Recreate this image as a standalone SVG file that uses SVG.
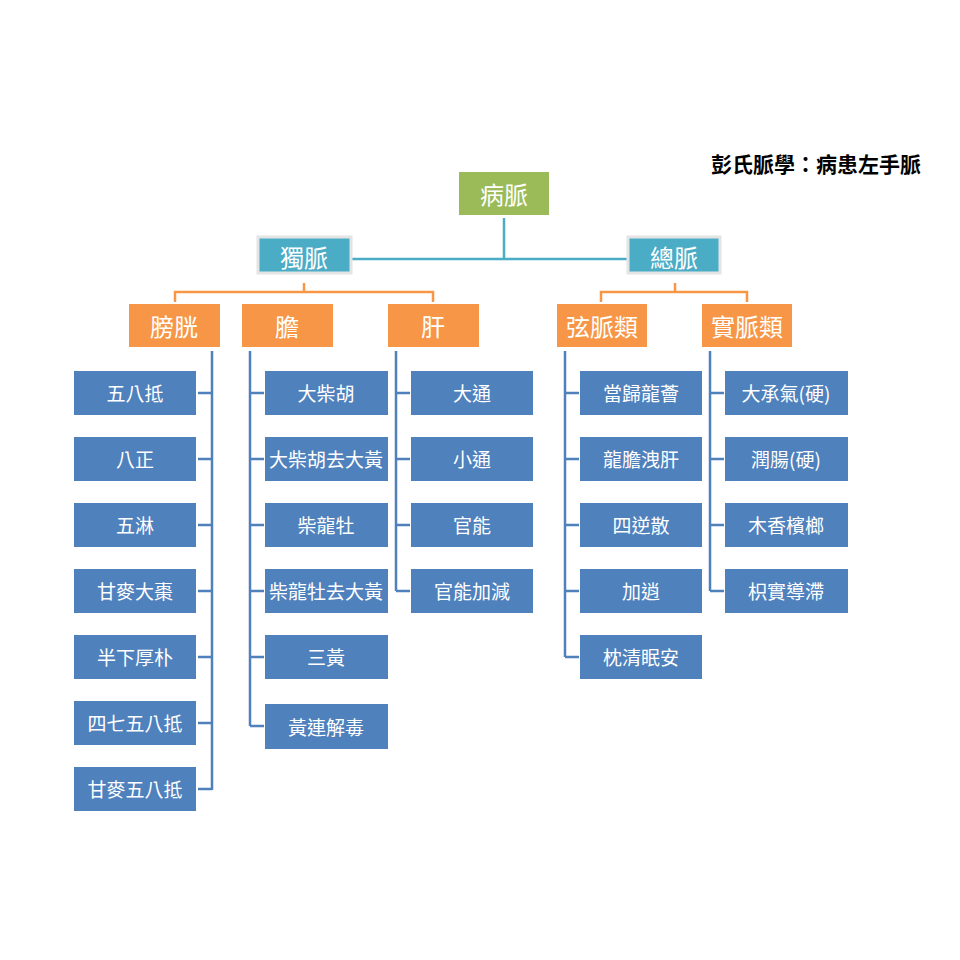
<svg xmlns="http://www.w3.org/2000/svg" width="960" height="960" viewBox="0 0 960 960">
<style>
text{font-family:"Noto Sans CJK TC","Noto Sans CJK SC",sans-serif;fill:#fff;text-anchor:middle;dominant-baseline:central}
.b{fill:#4f81bd}.o{fill:#f79646}.t{fill:#4bacc6;stroke:#e4e4e4;stroke-width:3}
.bl{stroke:#4f81bd;stroke-width:2.5;fill:none}.ol{stroke:#f79646;stroke-width:2.5;fill:none}.tl{stroke:#4bacc6;stroke-width:2.5;fill:none}
.s{font-size:19px}.m{font-size:24px}
</style>
<rect width="960" height="960" fill="#fff"/>
<text x="816" y="163" style="fill:#000;font-weight:bold;font-size:21px">彭氏脈學：病患左手脈</text>
<g id="connectors">
<path class="tl" d="M504 218V259M352 259H628"/>
<path class="ol" d="M304 283V292M175 302V292H433V302M675 283V292M601 302V292H747V302"/>
<path class="bl" d="M212 351V790M198 393H212M198 459H212M198 525H212M198 591H212M198 657H212M198 723H212M198 789H212"/>
<path class="bl" d="M250 351V726M250 393H264M250 459H264M250 525H264M250 591H264M250 657H264M250 726H264"/>
<path class="bl" d="M396 351V591M396 393H410M396 459H410M396 525H410M396 591H410"/>
<path class="bl" d="M565 351V657M565 393H579M565 459H579M565 525H579M565 591H579M565 657H579"/>
<path class="bl" d="M710 351V591M710 393H724M710 459H724M710 525H724M710 591H724"/>
</g>
<g id="n0"><rect x="459" y="172" width="90" height="43" fill="#9bbb59"/><text class="m" x="504" y="193">病脈</text></g>
<g id="n1"><rect class="t" x="258" y="237" width="93" height="36"/><text class="m" x="304" y="256">獨脈</text></g>
<g id="n2"><rect class="t" x="628" y="237" width="92" height="36"/><text class="m" x="674" y="256">總脈</text></g>
<g id="n3"><rect class="o" x="129" y="304" width="91" height="43"/><text class="m" x="174" y="325">膀胱</text></g>
<g id="n4"><rect class="o" x="242" y="304" width="91" height="43"/><text class="m" x="287" y="325">膽</text></g>
<g id="n5"><rect class="o" x="388" y="304" width="91" height="43"/><text class="m" x="433" y="325">肝</text></g>
<g id="n6"><rect class="o" x="557" y="304" width="90" height="43"/><text class="m" x="602" y="325">弦脈類</text></g>
<g id="n7"><rect class="o" x="702" y="304" width="90" height="43"/><text class="m" x="747" y="325">實脈類</text></g>
<g id="a1"><rect class="b" x="74" y="371" width="122" height="44"/><text class="s" x="135" y="392">五八抵</text></g>
<g id="a2"><rect class="b" x="74" y="437" width="122" height="44"/><text class="s" x="135" y="458">八正</text></g>
<g id="a3"><rect class="b" x="74" y="503" width="122" height="44"/><text class="s" x="135" y="524">五淋</text></g>
<g id="a4"><rect class="b" x="74" y="569" width="122" height="44"/><text class="s" x="135" y="590">甘麥大棗</text></g>
<g id="a5"><rect class="b" x="74" y="635" width="122" height="44"/><text class="s" x="135" y="656">半下厚朴</text></g>
<g id="a6"><rect class="b" x="74" y="701" width="122" height="44"/><text class="s" x="135" y="722">四七五八抵</text></g>
<g id="a7"><rect class="b" x="74" y="767" width="122" height="44"/><text class="s" x="135" y="788">甘麥五八抵</text></g>
<g id="b1"><rect class="b" x="265" y="371" width="123" height="44"/><text class="s" x="326" y="392">大柴胡</text></g>
<g id="b2"><rect class="b" x="265" y="437" width="123" height="44"/><text class="s" x="326" y="458">大柴胡去大黃</text></g>
<g id="b3"><rect class="b" x="265" y="503" width="123" height="44"/><text class="s" x="326" y="524">柴龍牡</text></g>
<g id="b4"><rect class="b" x="265" y="569" width="123" height="44"/><text class="s" x="326" y="590">柴龍牡去大黃</text></g>
<g id="b5"><rect class="b" x="265" y="635" width="123" height="44"/><text class="s" x="326" y="656">三黃</text></g>
<g id="b6"><rect class="b" x="265" y="704" width="123" height="45"/><text class="s" x="326" y="726">黃連解毒</text></g>
<g id="c1"><rect class="b" x="411" y="371" width="122" height="44"/><text class="s" x="472" y="392">大通</text></g>
<g id="c2"><rect class="b" x="411" y="437" width="122" height="44"/><text class="s" x="472" y="458">小通</text></g>
<g id="c3"><rect class="b" x="411" y="503" width="122" height="44"/><text class="s" x="472" y="524">官能</text></g>
<g id="c4"><rect class="b" x="411" y="569" width="122" height="44"/><text class="s" x="472" y="590">官能加減</text></g>
<g id="d1"><rect class="b" x="580" y="371" width="122" height="44"/><text class="s" x="641" y="392">當歸龍薈</text></g>
<g id="d2"><rect class="b" x="580" y="437" width="122" height="44"/><text class="s" x="641" y="458">龍膽洩肝</text></g>
<g id="d3"><rect class="b" x="580" y="503" width="122" height="44"/><text class="s" x="641" y="524">四逆散</text></g>
<g id="d4"><rect class="b" x="580" y="569" width="122" height="44"/><text class="s" x="641" y="590">加逍</text></g>
<g id="d5"><rect class="b" x="580" y="635" width="122" height="44"/><text class="s" x="641" y="656">枕清眠安</text></g>
<g id="e1"><rect class="b" x="725" y="371" width="123" height="44"/><text class="s" x="786" y="392">大承氣(硬)</text></g>
<g id="e2"><rect class="b" x="725" y="437" width="123" height="44"/><text class="s" x="786" y="458">潤腸(硬)</text></g>
<g id="e3"><rect class="b" x="725" y="503" width="123" height="44"/><text class="s" x="786" y="524">木香檳榔</text></g>
<g id="e4"><rect class="b" x="725" y="569" width="123" height="44"/><text class="s" x="786" y="590">枳實導滯</text></g>
</svg>
